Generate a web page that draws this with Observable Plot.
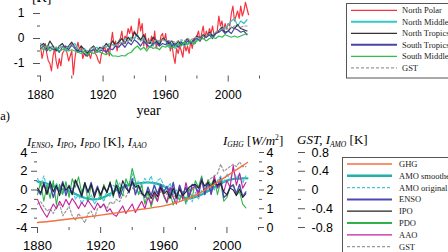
<!DOCTYPE html>
<html><head><meta charset="utf-8">
<script src="https://cdn.jsdelivr.net/npm/d3@7"></script>
<script src="https://cdn.jsdelivr.net/npm/@observablehq/plot@0.6"></script>
<style>
body{margin:0;background:#fff}
#wrap{position:relative;width:448px;height:252px;overflow:hidden;background:#fff}
#wrap svg{position:absolute;left:0;top:0}
</style></head><body><div id="wrap"></div>
<script>
// ---------- shared x ----------
const xDomain = [1880, 2020];
const yearlyYears = d3.range(1880, 2014);
const biennialYears = d3.range(1880, 2013, 2);

// ---------- top panel ----------
const topYDomain = [-1.5, 1.5];
const topXMajor = [1880, 1920, 1960, 2000];
const topXMinor = [1900, 1940, 1980, 2020];
const topYMajor = [-1, 0, 1];
const topYMinor = [-1.5, -0.5, 0.5, 1.5];
const topNames = ["North Polar", "North Middle", "North Tropics", "South Tropics", "South Middle", "GST"];
const topColors = ["#f5333f", "#33c9c9", "#333333", "#4646aa", "#2fbf4f", "#999999"];

const northPolar = [
-0.3,-0.8,-0.5,-0.2,-0.6,-0.9,-1.0,-1.3,-0.7,-0.4,
-0.9,-1.2,-0.8,-1.1,-0.6,-0.5,-0.3,-0.6,-0.9,-0.7,
-0.5,-1.45,-0.8,-0.4,-0.15,-0.5,-0.3,-0.8,-0.6,-0.7,
-0.7,-0.6,-0.8,-0.5,-0.4,-0.6,-0.7,-0.9,-1.0,-0.6,
-0.5,-0.3,-0.6,-0.4,-0.7,-0.2,0.25,-0.3,-0.1,-0.5,
-0.1,0.0,0.3,-0.2,0.1,0.0,0.4,0.2,0.5,0.1,
0.3,0.1,0.2,0.8,0.3,0.6,-0.3,0.2,-0.4,0.0,
-0.2,0.1,-0.3,0.3,-0.4,-0.1,-0.3,0.1,0.2,-0.1,
0.2,-0.3,-0.1,-0.5,-0.2,-0.7,-1.0,-0.4,-0.6,-0.3,
-0.5,-0.75,-0.2,-0.5,-0.3,-0.6,-0.1,-0.4,0.0,-0.2,
0.1,0.3,-0.1,0.2,0.5,0.0,0.3,0.1,0.4,0.2,
0.5,0.1,0.2,0.3,0.9,0.5,0.7,0.3,0.6,0.4,
0.6,0.5,1.0,1.3,0.7,0.9,1.1,0.8,1.3,0.9,
1.1,1.45,1.2,0.95];
const northMiddle = [
-0.2,-0.3,-0.4,-0.35,-0.3,-0.45,-0.4,-0.3,-0.5,-0.35,
-0.3,-0.2,-0.45,-0.5,-0.4,-0.55,-0.5,-0.4,-0.35,-0.5,
-0.3,-0.35,-0.2,-0.25,-0.3,-0.1,-0.2,0.0,-0.1,0.05,
0.0,0.15,-0.1,0.05,-0.2,-0.1,-0.3,-0.05,-0.2,0.0,
-0.1,-0.35,-0.2,-0.4,-0.25,-0.1,-0.3,-0.2,-0.1,-0.25,
0.0,-0.1,0.1,0.05,0.2,0.1,0.25,0.3,0.45,0.4,
0.55,0.7,0.8,0.5,0.7,0.6,0.75];
const northTropics = [
-0.3,-0.2,-0.4,-0.1,-0.3,-0.5,-0.3,-0.2,-0.4,-0.3,
-0.15,-0.35,-0.5,-0.3,-0.45,-0.6,-0.4,-0.3,-0.5,-0.35,
-0.4,-0.2,-0.35,-0.1,-0.25,-0.15,0.0,-0.2,0.05,-0.1,
0.25,0.1,-0.05,0.15,-0.15,-0.2,0.05,-0.1,-0.25,0.0,
-0.05,-0.2,-0.1,-0.3,-0.1,-0.25,-0.15,0.0,-0.2,-0.05,
0.1,0.0,0.15,0.05,0.25,0.1,0.2,0.3,0.45,0.25,
0.3,0.45,0.4,0.55,0.4,0.35,0.3];
const southTropics = [
-0.4,-0.3,-0.5,-0.35,-0.45,-0.4,-0.55,-0.35,-0.3,-0.45,
-0.25,-0.4,-0.55,-0.5,-0.6,-0.7,-0.5,-0.45,-0.55,-0.5,
-0.45,-0.55,-0.4,-0.45,-0.3,-0.35,-0.2,-0.35,-0.15,-0.25,
-0.05,-0.15,-0.3,-0.1,-0.25,-0.35,-0.2,-0.15,-0.3,-0.2,
-0.25,-0.1,-0.3,-0.2,-0.35,-0.15,-0.25,-0.1,-0.2,-0.05,
0.0,-0.1,0.1,0.05,0.15,0.0,0.2,0.25,0.35,0.2,
0.3,0.2,0.4,0.35,0.25,0.3,0.15];
const southMiddle = [
-0.35,-0.45,-0.3,-0.5,-0.4,-0.35,-0.5,-0.45,-0.4,-0.5,
-0.45,-0.5,-0.55,-0.6,-0.5,-0.65,-0.55,-0.6,-0.5,-0.55,
-0.6,-0.65,-0.55,-0.7,-0.7,-0.72,-0.68,-0.7,-0.6,-0.55,
-0.4,-0.3,-0.45,-0.35,-0.5,-0.3,-0.4,-0.35,-0.45,-0.3,
-0.35,-0.25,-0.4,-0.3,-0.2,-0.3,-0.15,-0.25,-0.1,-0.2,
-0.1,-0.05,0.0,-0.1,0.0,0.05,0.0,0.1,0.05,0.15,
0.1,0.05,0.1,0.05,0.1,0.15,0.2];
const gstTop = [
-0.25,-0.3,-0.35,-0.3,-0.4,-0.35,-0.3,-0.35,-0.4,-0.3,
-0.25,-0.35,-0.45,-0.4,-0.45,-0.5,-0.4,-0.35,-0.45,-0.4,
-0.35,-0.3,-0.3,-0.25,-0.25,-0.2,-0.15,-0.15,-0.1,-0.05,
0.05,0.0,-0.1,-0.05,-0.15,-0.1,-0.15,-0.05,-0.1,-0.05,
-0.05,-0.1,-0.1,-0.15,-0.1,-0.05,-0.1,0.0,-0.05,0.0,
0.05,0.0,0.1,0.1,0.2,0.15,0.25,0.3,0.4,0.35,
0.4,0.45,0.5,0.5,0.45,0.5,0.5];

// ---------- bottom panel ----------
const leftYDomain = [-4, 4];
const leftYMajor = [-4, -2, 0, 2, 4];
const leftYMinor = [-3, -1, 1, 3];
const ghgYDomain = [0, 4];
const ghgYMajor = [0, 1, 2, 3, 4];
const ghgYMinor = [0.5, 1.5, 2.5, 3.5];
const gstYDomain = [-0.8, 0.8];
const gstYMajor = [-0.8, -0.4, 0, 0.4, 0.8];
const gstYMinor = [-0.6, -0.2, 0.2, 0.6];
const botXMajor = [1880, 1920, 1960, 2000];
const botXMinor = [1900, 1940, 1980, 2020];
const botNames = ["GHG", "AMO smoothed", "AMO original", "ENSO", "IPO", "PDO", "AAO", "GST"];
const botColors = ["#f4703f", "#1fb2aa", "#45c6d6", "#4a4ab2", "#222222", "#2db34a", "#c21fa0", "#999999"];

const ghgYears = [1880,1890,1900,1910,1920,1930,1940,1950,1960,1970,1980,1990,2000,2010,2013];
const ghg = [0.27,0.35,0.45,0.55,0.66,0.78,0.9,1.02,1.15,1.38,1.72,2.2,2.75,3.3,3.47];
const amoSmoothYears = [1880,1885,1890,1895,1900,1905,1910,1915,1920,1925,1930,1935,1940,1945,1950,1955,1960,1965,1970,1975,1980,1985,1990,1995,2000,2005,2010,2013];
const amoSmooth = [0.18,0.15,0.08,0.02,-0.03,-0.1,-0.17,-0.2,-0.18,-0.1,0.0,0.08,0.12,0.15,0.16,0.14,0.08,-0.02,-0.12,-0.18,-0.15,-0.08,0.02,0.12,0.2,0.24,0.25,0.25];
const amoOriginal = [
0.25,0.1,0.3,0.05,0.2,-0.05,0.15,0.0,-0.1,0.1,
-0.05,0.05,-0.2,-0.1,-0.3,-0.15,-0.25,-0.1,-0.3,-0.2,
-0.1,-0.25,0.0,-0.15,0.1,0.05,0.15,0.0,0.2,0.1,
0.35,0.1,0.2,0.05,0.25,0.15,0.3,0.05,0.2,0.25,
0.1,0.0,0.15,-0.1,0.0,-0.2,-0.1,-0.3,-0.15,-0.25,
-0.05,-0.2,0.0,-0.1,0.05,0.1,0.0,0.2,0.3,0.15,
0.35,0.2,0.45,0.25,0.35,0.15,0.3];
const enso = [
0.0,-0.5,0.8,-0.3,0.5,-0.8,0.3,-0.2,0.9,-0.6,
0.5,-0.4,1.0,0.2,-0.7,0.6,-0.3,0.8,-0.5,0.4,
-0.6,0.3,-0.2,0.7,-0.4,0.5,-0.8,0.2,0.6,-0.3,
1.2,-0.5,0.4,-0.2,-0.8,0.3,-0.6,0.5,-0.4,0.6,
-0.2,0.4,-0.7,0.8,-0.9,0.5,-0.5,0.3,-0.8,0.6,
0.4,-0.3,1.2,-0.5,0.8,-0.4,0.9,0.3,1.3,-0.8,
-0.5,0.3,0.5,-0.4,0.6,-0.7,-0.2];
const ipo = [
0.2,-0.3,0.6,-0.5,0.9,-0.2,0.5,-0.6,0.7,0.0,
0.4,-0.5,1.1,0.3,-0.6,0.8,-0.2,0.6,-0.8,0.2,
-0.5,0.4,-0.3,0.8,-0.6,0.5,-0.4,1.0,0.2,-0.2,
0.9,0.3,0.5,-0.4,-0.6,-0.1,-0.9,-0.2,-0.7,0.3,
-0.4,-0.1,-0.9,0.2,-0.8,0.1,-0.6,-0.2,0.3,0.5,
0.6,0.2,1.0,0.4,0.8,0.3,1.1,0.5,0.7,-0.2,
-0.5,0.2,0.0,-0.6,0.1,-0.8,-0.4];
const pdo = [
-0.5,0.8,-1.2,0.5,-0.9,1.0,-1.6,0.6,-0.4,0.9,
-0.8,1.2,0.3,1.4,-0.3,0.8,-1.2,0.5,-0.5,0.2,
-1.0,0.6,-0.3,0.9,-0.8,1.1,0.0,-0.6,1.2,0.4,
2.3,1.0,-0.5,0.6,-1.5,-0.2,-1.8,-0.6,-1.2,0.3,
-0.7,-1.4,-0.3,-1.6,-0.5,-1.1,-0.2,-1.4,0.2,-0.9,
1.0,0.3,1.5,-0.2,1.1,0.5,1.3,-0.5,0.9,-1.2,
-0.8,0.4,0.6,-0.5,-0.2,-1.5,-1.9];
const aao = [
-1.0,-1.8,-2.4,-2.9,-2.2,-1.5,-2.0,-1.2,-1.8,-1.0,
-1.6,-0.9,-1.4,-2.0,-1.3,-1.8,-1.1,-1.6,-2.1,-1.4,
-1.9,-1.5,-2.3,-2.0,-2.6,-2.8,-2.2,-1.7,-2.5,-2.0,
-1.5,-2.4,-1.8,-1.2,-2.0,-0.8,-1.5,-0.3,-1.2,0.2,
-0.5,-1.3,0.3,-0.8,-1.5,0.5,-1.0,0.8,-0.6,0.2,
0.4,-0.7,1.2,-0.3,0.9,-0.5,1.5,0.2,0.6,-0.2,
1.0,0.3,2.6,0.5,1.8,0.2,0.8];
const gstBottom = [
-0.3,-0.25,-0.35,-0.45,-0.4,-0.5,-0.35,-0.3,-0.55,-0.45,
-0.35,-0.55,-0.65,-0.5,-0.6,-0.7,-0.5,-0.45,-0.6,-0.4,
-0.35,-0.3,-0.4,-0.25,-0.3,-0.2,-0.25,-0.1,-0.15,0.0,
0.05,0.0,-0.05,-0.1,-0.15,-0.05,-0.1,0.0,-0.15,-0.05,
0.0,-0.1,-0.05,-0.15,-0.1,0.0,-0.05,0.05,-0.1,0.0,
0.1,0.05,0.15,0.1,0.2,0.25,0.3,0.35,0.55,0.4,
0.45,0.5,0.55,0.5,0.6,0.5,0.5];

// ---------- helpers ----------
const rows = (years, vals) => vals.map((v, i) => ({year: years[i], v}));
const wrap = document.getElementById("wrap");
const axisStroke = "#555";
const plain = d => String(d);
const blank = () => "";

// ---------- top plot ----------
const topSeries = [
  {data: rows(yearlyYears, northPolar), w: 1.2},
  {data: rows(biennialYears, northMiddle), w: 1.2},
  {data: rows(biennialYears, northTropics), w: 1.2},
  {data: rows(biennialYears, southTropics), w: 1.2},
  {data: rows(biennialYears, southMiddle), w: 1.2},
  {data: rows(biennialYears, gstTop), w: 1.2, dash: "2,2"}
];
const topPlot = Plot.plot({
  width: 448, height: 252,
  marginTop: 0.5, marginBottom: 176.5, marginLeft: 40, marginRight: 189,
  style: {background: "transparent", fontFamily: "'Liberation Sans', Arial, sans-serif", fontSize: "12px", color: "#000"},
  x: {domain: xDomain}, y: {domain: topYDomain},
  marks: [
    ...topSeries.map((s, i) => Plot.line(s.data, {x: "year", y: "v", stroke: topColors[i], strokeWidth: s.w, strokeDasharray: s.dash})),
    Plot.axisX(topXMinor, {tickSize: 3, tickFormat: blank, stroke: axisStroke, label: null}),
    Plot.axisX(topXMajor, {tickSize: 6, tickPadding: 8.5, tickFormat: plain, stroke: axisStroke, label: null, line: true}),
    Plot.axisY(topYMinor, {tickSize: 3, tickFormat: blank, stroke: axisStroke, label: null}),
    Plot.axisY(topYMajor, {tickSize: 7, tickPadding: 9, tickFormat: plain, stroke: axisStroke, label: null, line: true})
  ]
});
wrap.appendChild(topPlot);

// ---------- bottom: GST / AMO axis ----------
const gstPlot = Plot.plot({
  width: 448, height: 252,
  marginTop: 152, marginBottom: 25, marginLeft: 37, marginRight: 151,
  style: {background: "transparent", fontFamily: "'Liberation Sans', Arial, sans-serif", fontSize: "12.5px", color: "#000"},
  x: {domain: xDomain, range: [37, 258], axis: null}, y: {domain: gstYDomain},
  marks: [
    Plot.line(rows(amoSmoothYears, amoSmooth), {x: "year", y: "v", stroke: botColors[1], strokeWidth: 2.2, curve: "natural"}),
    Plot.line(rows(biennialYears, amoOriginal), {x: "year", y: "v", stroke: botColors[2], strokeWidth: 1.1, strokeDasharray: "3,2"}),
    Plot.line(rows(biennialYears, gstBottom), {x: "year", y: "v", stroke: botColors[7], strokeWidth: 1.2, strokeDasharray: "2,2"}),
    Plot.axisY(gstYMinor, {anchor: "right", tickSize: 3, tickFormat: blank, stroke: axisStroke, label: null}),
    Plot.axisY(gstYMajor, {anchor: "right", tickSize: 7, tickPadding: 7, tickFormat: plain, stroke: axisStroke, label: null, line: true})
  ]
});
wrap.appendChild(gstPlot);

// ---------- bottom: left axis ----------
const leftPlot = Plot.plot({
  width: 448, height: 252,
  marginTop: 152, marginBottom: 25, marginLeft: 37, marginRight: 190,
  style: {background: "transparent", fontFamily: "'Liberation Sans', Arial, sans-serif", fontSize: "13px", color: "#000"},
  x: {domain: xDomain}, y: {domain: leftYDomain},
  marks: [
    Plot.line(rows(biennialYears, pdo), {x: "year", y: "v", stroke: botColors[5], strokeWidth: 1.1}),
    Plot.line(rows(biennialYears, aao), {x: "year", y: "v", stroke: botColors[6], strokeWidth: 1.1}),
    Plot.line(rows(biennialYears, enso), {x: "year", y: "v", stroke: botColors[3], strokeWidth: 1.4}),
    Plot.line(rows(biennialYears, ipo), {x: "year", y: "v", stroke: botColors[4], strokeWidth: 1.1}),
    Plot.axisX(botXMinor, {tickSize: 3, tickFormat: blank, stroke: axisStroke, label: null}),
    Plot.axisX(botXMajor, {tickSize: 6, tickPadding: 7, tickFormat: plain, stroke: axisStroke, label: null, line: true}),
    Plot.axisY(leftYMinor, {tickSize: 3, tickFormat: blank, stroke: axisStroke, label: null}),
    Plot.axisY(leftYMajor, {tickSize: 6, tickPadding: 4, tickFormat: plain, stroke: axisStroke, label: null, line: true})
  ]
});
wrap.appendChild(leftPlot);

// ---------- bottom: GHG axis ----------
const ghgPlot = Plot.plot({
  width: 448, height: 252,
  marginTop: 152, marginBottom: 25, marginLeft: 37, marginRight: 190,
  style: {background: "transparent", fontFamily: "'Liberation Sans', Arial, sans-serif", fontSize: "12.5px", color: "#000"},
  x: {domain: xDomain, axis: null}, y: {domain: ghgYDomain},
  marks: [
    Plot.line(rows(ghgYears, ghg), {x: "year", y: "v", stroke: botColors[0], strokeWidth: 1.4, curve: "natural"}),
    Plot.axisY(ghgYMinor, {anchor: "right", tickSize: 3, tickFormat: blank, stroke: axisStroke, label: null}),
    Plot.axisY(ghgYMajor, {anchor: "right", tickSize: 5, tickPadding: 3, tickFormat: plain, stroke: axisStroke, label: null, line: true})
  ]
});
wrap.appendChild(ghgPlot);

// ---------- texts and legends ----------
const svg = d3.select(wrap).append("svg").attr("width", 448).attr("height", 252)
  .style("font-family", "'Liberation Serif', 'Times New Roman', serif");

function richText(x, y, size, parts) {
  const t = svg.append("text").attr("x", x).attr("y", y).attr("font-size", size).attr("fill", "#000");
  let shift = 0;
  parts.forEach(p => {
    const target = p.sub ? 2.5 : p.sup ? -4.5 : 0;
    const ts = t.append("tspan").text(p.t).attr("dy", target - shift);
    shift = target;
    if (p.sub || p.sup) ts.attr("font-size", size * 0.58);
    if (p.i) ts.attr("font-style", "italic");
  });
  return t;
}
// panel labels
richText(32, 1.5, 14, [{t: "[K]"}]);
richText(-4, 120, 12.5, [{t: "(a)"}]);
svg.append("text").attr("x", 148.5).attr("y", 115).attr("font-size", 14).attr("text-anchor", "middle").text("year");
// axis titles bottom
richText(27, 145.5, 13, [
  {t: "I", i: true}, {t: "ENSO", sub: true, i: true}, {t: ", "},
  {t: "I", i: true}, {t: "IPO", sub: true, i: true}, {t: ", "},
  {t: "I", i: true}, {t: "PDO", sub: true, i: true}, {t: " [K], "},
  {t: "I", i: true}, {t: "AAO", sub: true, i: true}
]);
richText(223, 144.5, 13, [
  {t: "I", i: true}, {t: "GHG", sub: true, i: true}, {t: " ["}, {t: "W/m", i: true}, {t: "2", sup: true}, {t: "]"}
]);
richText(297, 144, 13, [
  {t: "GST, I", i: true}, {t: "AMO", sub: true, i: true}, {t: " [K]"}
]);

function legend(names, colors, widths, dashes, o) {
  svg.append("rect").attr("x", o.x).attr("y", o.y).attr("width", o.w).attr("height", o.h)
    .attr("fill", "#fff").attr("stroke", "#555").attr("stroke-width", 1);
  names.forEach((n, i) => {
    const y = o.y0 + i * o.dy;
    svg.append("line").attr("x1", o.l1).attr("x2", o.l2).attr("y1", y).attr("y2", y)
      .attr("stroke", colors[i]).attr("stroke-width", widths[i]).attr("stroke-dasharray", dashes[i]);
    svg.append("text").attr("x", o.tx).attr("y", y + 3).attr("font-size", o.fs).attr("fill", "#222").text(n);
  });
}
legend(topNames, topColors, [1.3, 2, 1.3, 2, 1.3, 1.3], [null, null, null, null, null, "3,2"],
  {x: 346.5, y: 3.5, w: 130, h: 74.5, y0: 10.3, dy: 11.5, l1: 351, l2: 397, tx: 402, fs: 8.5});
legend(botNames, botColors, [1.3, 2.5, 1.2, 2, 1.3, 1.8, 1.3, 1.3], [null, null, "3,2", null, null, null, null, "3,2"],
  {x: 342.5, y: 157.5, w: 130, h: 130, y0: 164, dy: 11.8, l1: 347, l2: 392, tx: 399, fs: 8.5});
</script></body></html>
